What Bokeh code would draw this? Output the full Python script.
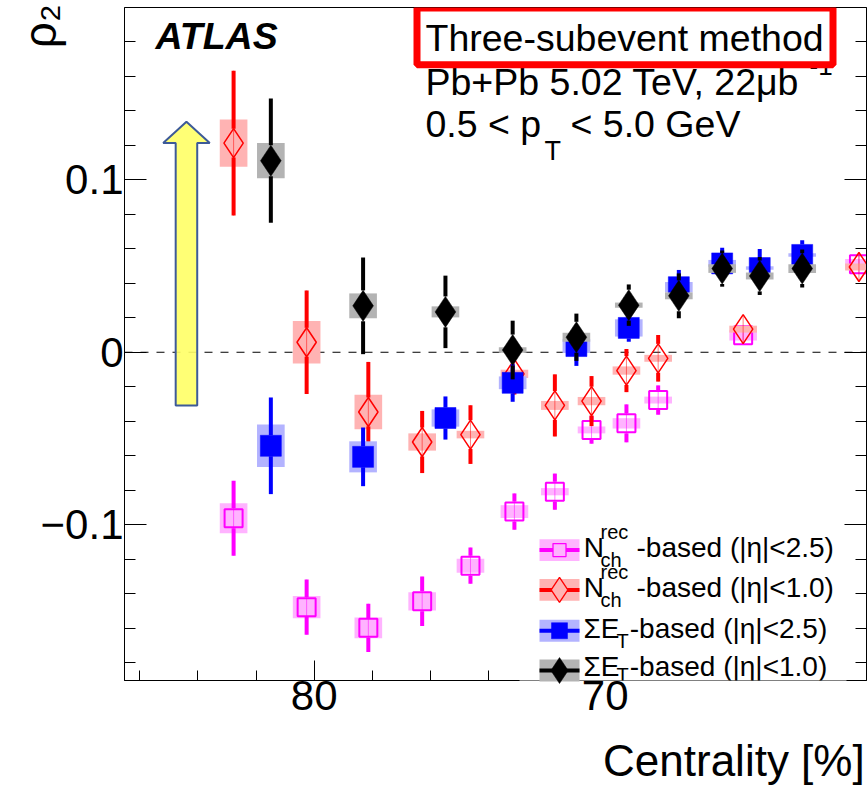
import numpy as np
from bokeh.plotting import figure
from bokeh.models import (Range1d, SingleIntervalTicker, LinearAxis, Label,
                          BoxAnnotation, Span, CustomJSTickFormatter, ColumnDataSource)
from bokeh.embed import file_html
from bokeh.resources import INLINE

FONT = "Liberation Sans"

# ---------------- data ----------------
nch_centrality = [82.77, 80.26, 78.14, 76.29, 74.63, 73.12, 71.73, 70.47, 69.27, 68.18, 65.26, 61.28]
nch25_rho  = [-0.0962, -0.1477, -0.1597, -0.1443, -0.1237, -0.0923, -0.0808, -0.0450, -0.0412, -0.0277, 0.0098, 0.0510]
nch25_stat = [0.0217, 0.0160, 0.0140, 0.0143, 0.0105, 0.0105, 0.0105, 0.0080, 0.0110, 0.0085, 0.0050, 0.0050]
nch25_sys  = [0.0087, 0.0065, 0.0060, 0.0053, 0.0040, 0.0037, 0.0021, 0.0020, 0.0030, 0.0020, 0.0030, 0.0030]

nch10_rho  = [0.1212, 0.0058, -0.0346, -0.0520, -0.0477, -0.0125, -0.0308, -0.0283, -0.0106, -0.0035, 0.0134, 0.0494]
nch10_stat = [0.0420, 0.0300, 0.0290, 0.0180, 0.0170, 0.0120, 0.0180, 0.0145, 0.0125, 0.0135, 0.0080, 0.0080]
nch10_sys  = [0.0137, 0.0123, 0.0100, 0.0050, 0.0022, 0.0024, 0.0026, 0.0024, 0.0024, 0.0020, 0.0020, 0.0020]

et_centrality = [81.49, 78.32, 75.49, 73.18, 70.99, 69.19, 67.47, 65.98, 64.69, 63.23]
et25_rho  = [-0.0542, -0.0606, -0.0381, -0.0177, 0.0036, 0.0141, 0.0377, 0.0515, 0.0488, 0.0564]
et25_stat = [0.0280, 0.0170, 0.0125, 0.0110, 0.0115, 0.0080, 0.0100, 0.0090, 0.0110, 0.0085]
et25_sys  = [0.0123, 0.0090, 0.0050, 0.0037, 0.0040, 0.0050, 0.0030, 0.0020, 0.0010, 0.0010]

et10_rho  = [0.1110, 0.0269, 0.0234, 0.0013, 0.0087, 0.0273, 0.0327, 0.0485, 0.0442, 0.0485]
et10_stat = [0.0360, 0.0280, 0.0210, 0.0170, 0.0137, 0.0120, 0.0130, 0.0105, 0.0110, 0.0110]
et10_sys  = [0.0102, 0.0072, 0.0032, 0.0016, 0.0026, 0.0015, 0.0020, 0.0025, 0.0020, 0.0025]

legend_suffix = ["-based (|\u03b7|<2.5)", "-based (|\u03b7|<1.0)", "-based (|\u03b7|<2.5)", "-based (|\u03b7|<1.0)"]

# annotation arrow (centrality, rho)
arrow_centrality = 84.39
arrow_bottom, arrow_head_base, arrow_tip = -0.0308, 0.1212, 0.1336
arrow_shaft_half, arrow_head_half = 0.37, 0.80

# ---------------- layout ----------------
W, H = 867, 787
BL, BR, BT = 124, 1, 7
FRAME_BOTTOM = 683
BB = H - FRAME_BOTTOM
FW, FH = W - BL - BR, FRAME_BOTTOM - BT
X_START = 86.519
X_END = X_START - FW / 29.1
Y_END = 0.19978
Y_START = Y_END - FH / 1733.4
PAGE_L, PAGE_B = BL, FRAME_BOTTOM
YPX = FH / (Y_END - Y_START)
XPX = FW / (X_START - X_END)

def dx(px):
    return X_START - (px - PAGE_L) / XPX

def dy(py):
    return Y_END - (py - BT) / YPX

p = figure(width=W, height=H, output_backend="svg", toolbar_location=None,
           x_range=Range1d(X_START, X_END), y_range=Range1d(Y_START, Y_END),
           min_border_left=BL, min_border_right=BR, min_border_top=BT, min_border_bottom=BB)
p.xgrid.visible = False
p.ygrid.visible = False
p.outline_line_color = "black"
p.outline_line_width = 1
p.background_fill_color = "white"
p.border_fill_color = "white"

def style_axis(ax, tick_major, tick_minor, font_size, standoff):
    ax.major_tick_in = tick_major
    ax.major_tick_out = 0
    ax.minor_tick_in = tick_minor
    ax.minor_tick_out = 0
    ax.axis_line_color = "black"
    ax.major_tick_line_color = "black"
    ax.minor_tick_line_color = "black"
    ax.major_label_text_font = FONT
    ax.major_label_text_font_size = font_size
    ax.major_label_text_color = "black"
    ax.major_label_standoff = standoff
    ax.axis_label_text_font = FONT
    ax.axis_label_text_font_style = "normal"
    ax.axis_label_text_color = "black"

NBSP = "\u00a0"

xa = p.xaxis[0]
xa.ticker = SingleIntervalTicker(interval=10, num_minor_ticks=5)
xa.formatter = CustomJSTickFormatter(code="return Math.round(tick).toFixed(0);")
style_axis(xa, 20, 10, "42px", 0)
# centred title, padded on the left so that it ends at the right edge of the frame
xa.axis_label = NBSP * 39 + "Centrality [%]"
xa.axis_label_text_font_size = "44px"
xa.axis_label_standoff = 23

ya = p.yaxis[0]
ya.ticker = SingleIntervalTicker(interval=0.1, num_minor_ticks=5)
ya.formatter = CustomJSTickFormatter(code="""
const v = Math.round(tick*10)/10;
if (Math.abs(v) < 1e-9) return "0";
return (v < 0 ? "\\u2212" : "") + Math.abs(v).toFixed(1);
""")
style_axis(ya, 22, 11, "42px", 1)
# centred title, padded at its start so that the symbol sits at the top of the axis
ya.axis_label = NBSP * 49 + "\u2009" + "\u03c1\u2082"
ya.axis_label_text_font_size = "46px"
ya.axis_label_standoff = -28

ra = LinearAxis(ticker=SingleIntervalTicker(interval=0.1, num_minor_ticks=5),
                formatter=CustomJSTickFormatter(code="return '';"))
style_axis(ra, 22, 11, "0px", 0)
p.add_layout(ra, "right")

# zero line
p.add_layout(Span(location=0, dimension="width", line_color="black", line_width=1,
                  line_dash="8 8", level="underlay"))

# arrow
ax_ = arrow_centrality
p.patch([ax_ - arrow_shaft_half, ax_ - arrow_shaft_half, ax_ - arrow_head_half, ax_,
         ax_ + arrow_head_half, ax_ + arrow_shaft_half, ax_ + arrow_shaft_half],
        [arrow_bottom, arrow_head_base, arrow_head_base, arrow_tip,
         arrow_head_base, arrow_head_base, arrow_bottom],
        fill_color="#FFFF66", fill_alpha=0.9, line_color="#3D5A98", line_width=2)

BOX_HALF = 0.475

def draw(cent, rho, stat, sys, color, box_color, marker, size, lw, filled, half_px):
    c = np.asarray(cent, float); r = np.asarray(rho, float)
    s = np.asarray(stat, float); e = np.asarray(sys, float)
    gap = half_px / YPX
    lo, hi = r - s, r + s
    src = ColumnDataSource(dict(x=c, y=r, lo=lo, hi=hi,
                                lo_end=np.maximum(lo, r - gap), hi_start=np.minimum(hi, r + gap),
                                bl=c - BOX_HALF, br=c + BOX_HALF, bb=r - e, bt=r + e))
    p.quad(left="bl", right="br", bottom="bb", top="bt", source=src,
           fill_color=box_color, line_color=None)
    if not filled:
        p.segment(x0="x", y0="lo", x1="x", y1="hi", source=src,
                  line_color=color, line_width=1, line_alpha=0.5)
    p.segment(x0="x", y0="lo", x1="x", y1="lo_end", source=src, line_color=color, line_width=4)
    p.segment(x0="x", y0="hi_start", x1="x", y1="hi", source=src, line_color=color, line_width=4)
    p.scatter(x="x", y="y", source=src, marker=marker, size=size, line_width=lw,
              line_color=color, fill_color=(color if filled else None))

SERIES = [
    (nch_centrality, nch25_rho, nch25_stat, nch25_sys, "#FF00FF", "#FFB3FF", "square", 18, 2, False, 10),
    (nch_centrality, nch10_rho, nch10_stat, nch10_sys, "#FF0000", "#FFB3B3", "diamond", 29, 1.5, False, 14.5),
    (et_centrality, et25_rho, et25_stat, et25_sys, "#0000FF", "#B3B3FF", "square", 21, 0.5, True, 10.5),
    (et_centrality, et10_rho, et10_stat, et10_sys, "#000000", "#B3B3B3", "diamond", 31, 0.5, True, 15.5),
]
for s in SERIES:
    draw(*s)

def screen_label(px, py, text, size, color="black", style="normal", align="left"):
    # py is the wanted baseline (page pixels); anchor the text at its middle
    p.add_layout(Label(x=px - PAGE_L, y=PAGE_B - (py - 0.35 * size), x_units="screen", y_units="screen",
                       text=text, text_font=FONT, text_font_size=f"{size}px",
                       text_font_style=style, text_color=color, text_align=align,
                       text_baseline="middle"))

def screen_box(l, t, r, b, **kw):
    p.add_layout(BoxAnnotation(left=l - PAGE_L, right=r - PAGE_L, top=PAGE_B - t, bottom=PAGE_B - b,
                               left_units="screen", right_units="screen",
                               top_units="screen", bottom_units="screen", **kw))

# texts
screen_label(155, 51.7, "ATLAS", 37.5, style="bold italic")
screen_label(425, 98, "Pb+Pb 5.02 TeV, 22\u03bcb", 37.5)
screen_label(809, 78, "-1", 26)
screen_box(416.5, 10.5, 832.5, 67.2, fill_color="white", fill_alpha=1.0,
           line_color="#FF0000", line_alpha=1.0, line_width=7)
screen_label(425, 53.3, "Three-subevent method", 37.5)
screen_label(425, 140, "0.5 < p", 37.5)
screen_label(544, 162.7, "T", 27)
screen_label(570, 140, "< 5.0 GeV", 37.5)

# legend
screen_box(519, 528, 846, 692, fill_color="white", fill_alpha=1.0, line_color=None)
row_centers = [552, 592, 633, 673]
for (s, cy, suffix) in zip(SERIES, row_centers, legend_suffix):
    color, box_color, marker = s[4], s[5], s[6]
    filled = s[9]
    p.quad(left=[dx(539)], right=[dx(579)], bottom=[dy(cy + 11)], top=[dy(cy - 11)],
           fill_color=box_color, line_color=None, level="overlay")
    p.segment(x0=[dx(539)], y0=[dy(cy)], x1=[dx(579)], y1=[dy(cy)],
              line_color=color, line_width=4, level="overlay")
    msize = {"square": 13 if not filled else 16, "diamond": 25 if not filled else 26}[marker]
    p.scatter(x=[dx(559)], y=[dy(cy)], marker=marker, size=msize,
              line_width=(1.3 if not filled else 0.5), line_color=color,
              fill_color=(color if filled else box_color), level="overlay")

for i, cy in enumerate(row_centers):
    base = cy + 7.7 - (2 if i == 3 else 0)
    if i < 2:
        screen_label(583.3, base, "N", 28)
        screen_label(600, base - 18.5, "rec", 20)
        screen_label(600, base + 10, "ch", 20)
        screen_label(636, base, legend_suffix[i], 28)
    else:
        screen_label(583, base, "\u03a3E", 28)
        screen_label(616, base + (10 if i == 2 else 6), "T", 20)
        screen_label(629.3, base, legend_suffix[i], 28)

open("out.html", "w").write(file_html(p, INLINE))
